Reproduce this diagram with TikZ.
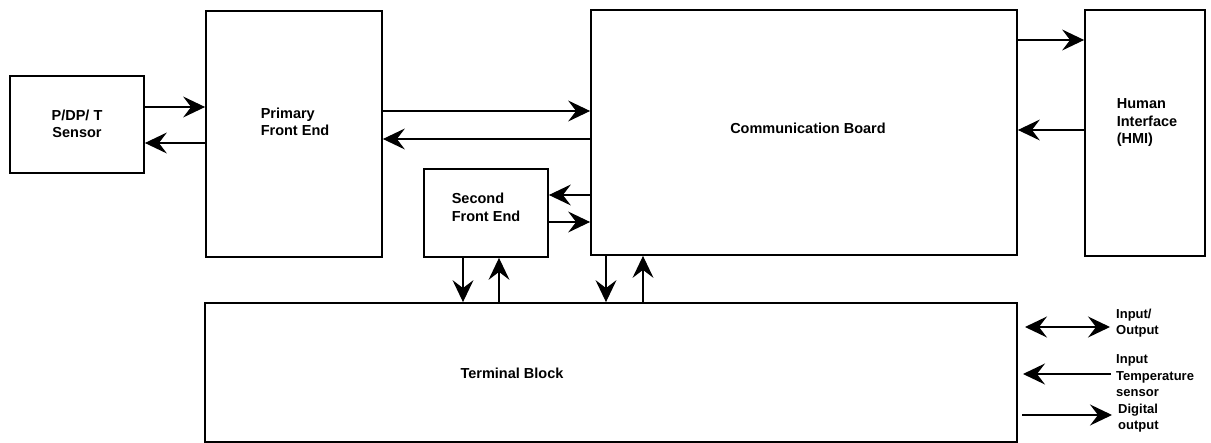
\documentclass[tikz,border=0pt]{standalone}
\usepackage{fontspec}
\setmainfont{Liberation Sans}
\usetikzlibrary{arrows.meta}
\tikzset{
  box/.style={draw, line width=1.8pt, inner sep=0pt},
  lbl/.style={font=\fontsize{14.5}{17.5}\selectfont\bfseries, inner sep=0pt},
  sidelbl/.style={font=\fontsize{13}{16.5}\selectfont\bfseries, inner sep=0pt, align=left, anchor=west},
  tip/.style={Stealth[length=22pt, width=21pt, inset=8pt]},
  arr/.style={line width=1.2pt, -{Stealth[length=22pt, width=21pt, inset=8pt]}},
  darr/.style={line width=1.2pt, {Stealth[length=22pt, width=21pt, inset=8pt]}-{Stealth[length=22pt, width=21pt, inset=8pt]}}
}
\begin{document}
\begin{tikzpicture}[x=1pt, y=-1pt]
\useasboundingbox (0,0) rectangle (1211,443);
% boxes
\node[box, minimum width=134pt, minimum height=97pt] (sen) at (77,124.5) {};
\node[box, minimum width=176pt, minimum height=246pt] (pfe) at (294,134) {};
\node[box, minimum width=426pt, minimum height=245pt] (cb) at (804,132.5) {};
\node[box, minimum width=120pt, minimum height=246pt] (hmi) at (1145,133) {};
\node[box, minimum width=124pt, minimum height=88pt] (sfe) at (486,213) {};
\node[box, minimum width=812pt, minimum height=139pt] (tb) at (611,372.5) {};
% texts
\node[lbl, align=center] (senT) at (77,124) {P/DP/ T\\Sensor};
\node[lbl, align=left] (pfeT) at (295,122) {Primary\\Front End};
\node[lbl] (cbT) at (808,128) {Communication Board};
\node[lbl, align=left] (hmiT) at (1147,123) {Human\\Interface\\(HMI)};
\node[lbl, align=left] (sfeT) at (486,207.5) {Second\\Front End};
\node[lbl] (tbT) at (512,373) {Terminal Block};
\node[sidelbl] (io) at (1116,323) {Input/\\Output};
\node[sidelbl] (it) at (1116,376) {Input\\Temperature\\sensor};
\node[sidelbl] (dig) at (1118,418) {Digital\\output};
% connectors
\draw[arr] (sen.east |- 0,107) -- (pfe.west |- 0,107);
\draw[arr] (pfe.west |- 0,143) -- (sen.east |- 0,143);
\draw[arr] (pfe.east |- 0,111) -- (cb.west |- 0,111);
\draw[arr] (cb.west |- 0,139) -- (pfe.east |- 0,139);
\draw[arr] (cb.west |- 0,195) -- (sfe.east |- 0,195);
\draw[arr] (sfe.east |- 0,222) -- (cb.west |- 0,222);
\draw[arr] (cb.east |- 0,40) -- (hmi.west |- 0,40);
\draw[arr] (hmi.west |- 0,130) -- (cb.east |- 0,130);
\draw[arr] (sfe.south -| 463,0) -- (tb.north -| 463,0);
\draw[arr] (tb.north -| 499,0) -- (sfe.south -| 499,0);
\draw[arr] (cb.south -| 606,0) -- (tb.north -| 606,0);
\draw[arr] (tb.north -| 643,0) -- (cb.south -| 643,0);
% side connectors
\coordinate (ioL) at (1025,327);
\coordinate (ioR) at (1110,327);
\coordinate (itL) at (1023,374);
\coordinate (itR) at (1111,374);
\coordinate (dgL) at (1022,415);
\coordinate (dgR) at (1112,415);
\draw[darr] (ioL) -- (ioR);
\draw[arr] (itR) -- (itL);
\draw[arr] (dgL) -- (dgR);
\end{tikzpicture}
\end{document}
